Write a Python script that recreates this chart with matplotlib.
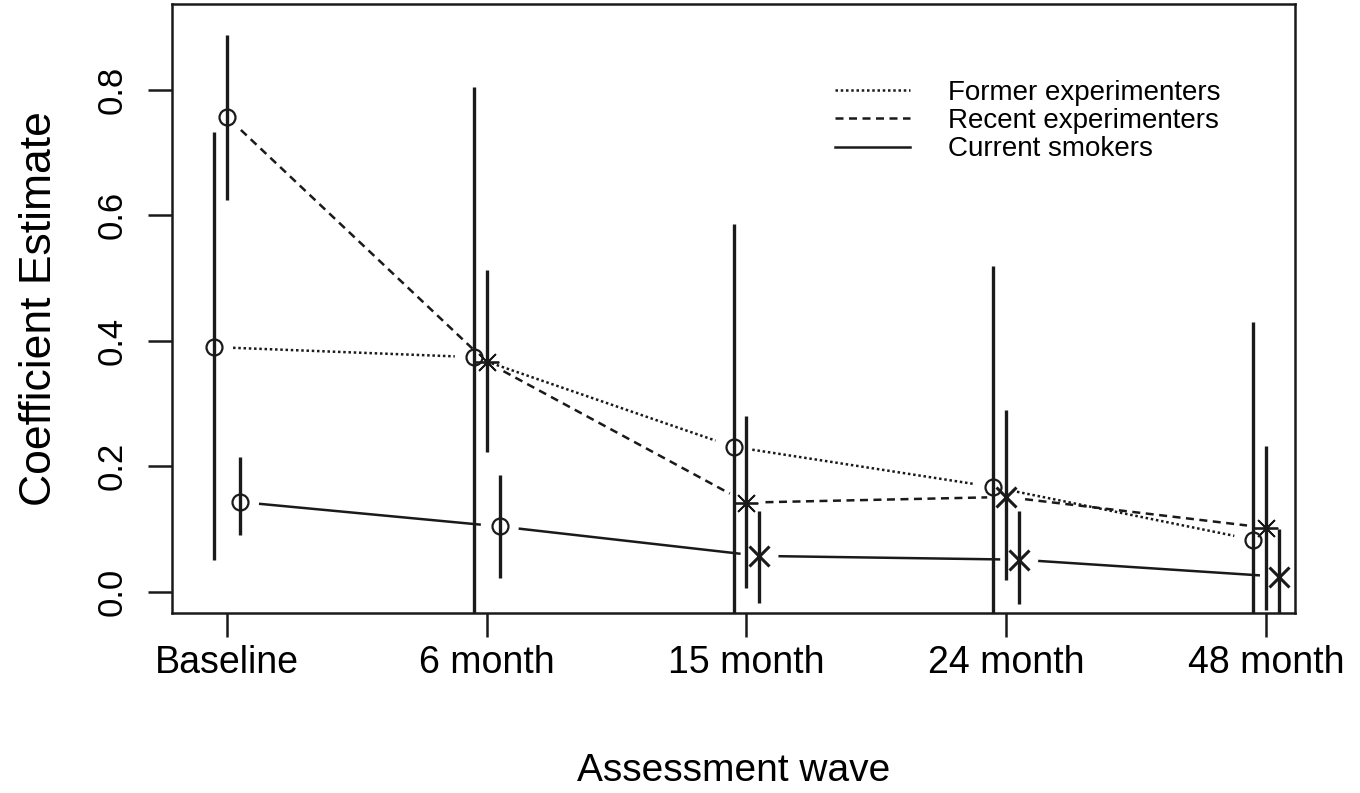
import numpy as np
import matplotlib
matplotlib.use("Agg")
import matplotlib.pyplot as plt
from matplotlib.lines import Line2D

plt.rcParams['font.family'] = ['Liberation Sans', 'DejaVu Sans']

waves = ["Baseline", "6 month", "15 month", "24 month", "48 month"]

former_est = [0.390, 0.374, 0.231, 0.167, 0.083]
former_lo = [0.051, -0.057, -0.124, -0.186, -0.264]
former_hi = [0.733, 0.805, 0.586, 0.520, 0.430]
former_mk = ['o', 'o', 'o', 'o', 'o']

recent_est = [0.757, 0.366, 0.142, 0.151, 0.102]
recent_lo = [0.625, 0.223, 0.006, 0.019, -0.029]
recent_hi = [0.888, 0.513, 0.280, 0.290, 0.233]
recent_mk = ['o', 'ast', 'ast', 'x', 'ast']

current_est = [0.143, 0.104, 0.057, 0.051, 0.024]
current_lo = [0.091, 0.022, -0.018, -0.019, -0.052]
current_hi = [0.214, 0.186, 0.129, 0.129, 0.100]
current_mk = ['o', 'o', 'x', 'x', 'x']

W, H, DPI = 1360, 793, 100
fig = plt.figure(figsize=(W / DPI, H / DPI), dpi=DPI)
ax = fig.add_axes([172 / W, 1 - 613 / H, (1295 - 172) / W, (613 - 4) / H])
ax.set_xlim(0.788, 5.112)
ax.set_ylim(-0.034, 0.937)

INK = '#1a1a1a'
GAP = 19  # px gap around points, like R type="b"

markers = {
    'o': dict(marker='o', ms=11.5, mfc='none', mew=1.6),
    'x': dict(marker='x', ms=14, mew=2.2),
    'ast': dict(marker=(8, 2, 0), ms=17, mew=1.3),
}


def gapped_line(xs, ys, ls):
    pts = ax.transData.transform(np.column_stack([xs, ys]))
    inv = ax.transData.inverted()
    for p, q in zip(pts[:-1], pts[1:]):
        d = q - p
        L = np.hypot(*d)
        if L <= 2 * GAP:
            continue
        u = d / L
        a, b = inv.transform([p + u * GAP, q - u * GAP])
        ax.plot([a[0], b[0]], [a[1], b[1]], color=INK, lw=1.8, ls=ls,
                solid_capstyle='butt', dash_capstyle='butt')


series = [
    (former_est, former_lo, former_hi, former_mk, -0.05, (0, (1, 1.1))),
    (recent_est, recent_lo, recent_hi, recent_mk, 0.0, (0, (3.2, 2.2))),
    (current_est, current_lo, current_hi, current_mk, 0.05, '-'),
]

x0 = np.arange(1, len(waves) + 1)
for est, lo, hi, mk, off, ls in series:
    xs = x0 + off
    ax.vlines(xs, lo, hi, color=INK, lw=2.4)
    gapped_line(xs, est, ls)
    for x, y, m in zip(xs, est, mk):
        ax.plot([x], [y], color=INK, ls='none', **markers[m])

ax.set_xticks(x0)
ax.set_xticklabels(waves, fontsize=27)
ax.set_yticks([0.0, 0.2, 0.4, 0.6, 0.8])
ax.set_yticklabels(['0.0', '0.2', '0.4', '0.6', '0.8'], fontsize=25,
                   rotation=90, va='center')
ax.tick_params(axis='both', length=17, width=1.8, color=INK)
ax.tick_params(axis='x', pad=6)
ax.tick_params(axis='y', pad=14)
for s in ax.spines.values():
    s.set_linewidth(1.8)
    s.set_color(INK)

ax.set_xlabel("Assessment wave", fontsize=28, labelpad=52)
ax.set_ylabel("Coefficient Estimate", fontsize=32, labelpad=26)

handles = [
    Line2D([], [], color=INK, lw=1.8, ls=(0, (1, 1.1))),
    Line2D([], [], color=INK, lw=1.8, ls=(0, (3.2, 2.2))),
    Line2D([], [], color=INK, lw=1.8, ls='-'),
]
ax.legend(handles, ["Former experimenters", "Recent experimenters", "Current smokers"],
          frameon=False, fontsize=20, loc='upper left',
          bbox_to_anchor=((835 - 172) / (1295 - 172), 1 - (80 - 4) / (613 - 4)),
          handlelength=2.7, handletextpad=1.37, labelspacing=0.08,
          borderaxespad=0, borderpad=0)

fig.savefig("out.png", dpi=DPI)
